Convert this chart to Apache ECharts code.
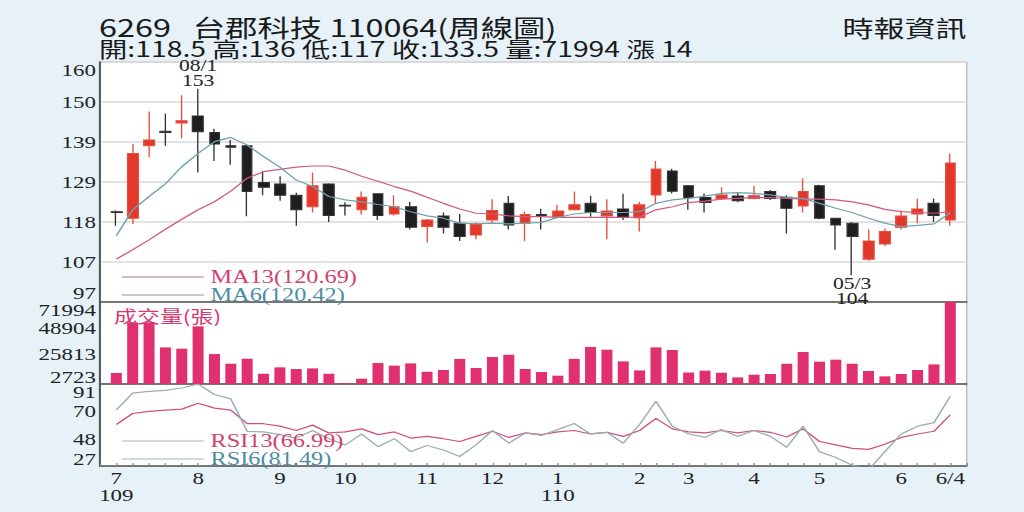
<!DOCTYPE html>
<html>
<head>
    <meta charset="utf-8">
    <script src="https://cdn.jsdelivr.net/npm/echarts@6.0.0/dist/echarts.min.js"></script>
    <style>
        html, body { margin: 0; padding: 0; background: #e6f2f8; overflow: hidden; }
        #main { height: 512px; transform-origin: 0 0; }
    </style>
</head>
<body>
    <div id="main"></div>
</body>
<script type="text/javascript">
    // the reference is stretched sideways, so draw narrow and scale the box
    var S = 1.35;
    function px(v) { return v / S; }

    // weekly candles: [open, close, low, high]
    var candles = [
        [120.7, 120.5, 117, 121], [119, 136, 117.5, 138.5], [138, 139.5, 135, 147], [141.8, 141.5, 138, 146.5],
        [144, 144.6, 140, 151.3], [145.8, 141.7, 131, 153], [141.5, 138.5, 134, 142.5], [138, 137.6, 133, 139.5],
        [138, 126, 119.5, 138.3], [128.4, 127.1, 125, 131.4], [128, 125, 123.6, 130], [125, 121.2, 117, 125.7],
        [122, 127.5, 120.5, 131], [128, 119.7, 118, 128.2], [122.4, 122.2, 119.7, 123.2], [121.2, 124.5, 120, 126],
        [125.4, 119.7, 118.5, 125.5], [120.1, 122, 119.7, 125], [122, 116.6, 116, 123.3], [116.8, 118.5, 112.6, 118.8],
        [119.6, 116.6, 115, 120.5], [117.7, 114.2, 113, 120.1], [114.6, 117.5, 113.5, 117.9], [118.5, 121, 117.7, 124],
        [122.9, 117.2, 116, 124.8], [117.7, 120, 113, 120.7], [120, 119.7, 116, 121.4], [119.4, 120.9, 119.2, 122.5],
        [121.2, 122.5, 121, 126], [122.9, 120.5, 119.4, 124.9], [119.6, 120.9, 113.5, 124], [121.4, 119.2, 118.5, 125.4],
        [119.1, 122.5, 115.5, 123.3], [125.1, 131.9, 122.9, 134], [131.4, 126.1, 125.5, 132], [127.5, 124.4, 121.2, 127.7],
        [124.4, 123.1, 120.5, 125.5], [124.2, 125.1, 123.8, 127.1], [124.8, 123.6, 123.2, 125.8], [124.2, 124.9, 124, 127.5],
        [126, 124.2, 123.8, 126.4], [124.5, 121.6, 115, 125], [122.2, 126, 120.5, 129.5], [127.5, 119, 118.7, 127.8],
        [119, 117.2, 110.7, 119.1], [117.7, 114.2, 104, 118], [108.2, 113, 107.8, 116], [112.2, 115.5, 111.7, 116.3],
        [116.6, 119.6, 116, 121], [120.1, 121.4, 117.7, 124.2], [122.9, 119.7, 118, 124.2], [118.5, 133.5, 117, 136]
    ];

    var ma6 = [
        114.4, 121.2, 124.7, 128, 132.5, 136, 139.1, 140.2, 138.2, 135.2,
        132.4, 129, 127.3, 124.7, 123.8, 123.3, 122.6, 122, 120.7, 119.6,
        119, 117.7, 117.5, 117.7, 117.5, 117.7, 117.9, 119.2, 120.1, 120.5,
        120.5, 120.5, 120.7, 122.9, 123.8, 124.2, 124.8, 125.5, 125.7, 125.5,
        125.1, 124.5, 124.2, 122.9, 121.6, 120.5, 119, 117.7, 116.8, 117.1,
        117.5, 120.42
    ];
    var ma13 = [
        108.3, 110.7, 113.3, 116.1, 118.7, 121.2, 123.3, 126.1, 129.5, 131.2,
        131.8, 132.4, 132.7, 132.7, 131.6, 130, 128.7, 127.3, 126.1, 124.5,
        122.9, 121.4, 120.3, 120.1, 119.6, 119.4, 119.4, 119.2, 119.2, 119.2,
        119.2, 119.2, 119.3, 121.2, 122, 123.1, 123.5, 124, 124.2, 124.4,
        124.4, 124.2, 124, 124, 123.8, 123.3, 122.5, 121.3, 120.7, 120.5,
        120.3, 120.69
    ];

    var volume = [
        9660, 54100, 54100, 32150, 31000, 50600, 26300, 17800, 22200, 9000,
        14600, 13150, 13700, 9000, 800, 4650, 18400, 16100, 18100, 10800,
        12300, 22000, 14050, 23700, 25700, 13150, 10550, 7300, 22000, 32500,
        30100, 19850, 11950, 32150, 29850, 10200, 11700, 9900, 5800, 8150,
        8800, 17800, 28100, 19600, 21350, 17800, 11400, 6700, 8800, 12300,
        17200, 71994
    ];

    var rsi6 = [
        70.8, 83.9, 85.2, 86, 87.9, 91, 82.8, 79.4, 54.1, 53.6,
        51.5, 48.8, 54.7, 48.3, 43.5, 52, 42.1, 48.3, 38.2, 43,
        39.5, 34.4, 43.5, 54.7, 44.8, 52.8, 50.9, 55.4, 60.2, 52,
        53.3, 44.8, 59.4, 77.5, 58.1, 52, 49.3, 55.4, 50.1, 54.7,
        50.1, 41.6, 58.1, 38.2, 33.6, 27.5, 24, 38.2, 52, 58.1,
        60.8, 81.49
    ];
    var rsi13 = [
        59.4, 68, 69.6, 70.6, 71.4, 76, 72.2, 70.6, 60, 60,
        58.1, 54.7, 58.9, 52.8, 53.6, 56, 51.5, 53.6, 48.8, 50.1,
        48.3, 46.1, 50.1, 54.1, 49.3, 52.8, 51.5, 53.6, 54.7, 52,
        53.3, 50.1, 54.7, 64.2, 56, 53.6, 52.8, 54.7, 52.8, 54.7,
        53.3, 49.6, 56, 46.1, 43.5, 40.8, 40, 44, 49.3, 52,
        54.1, 66.99
    ];

    // month marks under the weeks
    var weekLabels = [
        '7\n109', '', '', '', '', '8', '', '', '', '',
        '9', '', '', '', '10', '', '', '', '', '11',
        '', '', '', '12', '', '', '', '1\n110', '', '',
        '', '', '2', '', '', '3', '', '', '', '4',
        '', '', '', '5', '', '', '', '', '6', '',
        '', '6/4'
    ];

    var priceTickLabels = ['97', '107', '118', '129', '139', '150', '160'];
    var volTicks = [2723, 25813, 48904, 71994];
    var rsiTicks = [27, 48, 70, 91];
    var markDates = ['08/1', '05/3'];

    var quoteNames = ['開', '高', '低', '收', '量'];
    var quoteValues = [118.5, 136, 117, 133.5, 71994];
    var change = 14;

    function pad(arr) { return ['-'].concat(arr, ['-']); }
    var cats = [''].concat(weekLabels, ['']);
    var last = candles.length - 1;

    var serif = 'Liberation Serif';
    var cjk = 'Noto Sans CJK TC';

    var quoteText = quoteNames.map(function (n, i) { return n + ':' + quoteValues[i]; }).join(' ') + ' 漲 ' + change;

    function edgeLabel(isLo, isHi, t) {
        if (isLo) return '{lo|' + t + '}';
        if (isHi) return '{hi|' + t + '}';
        return t;
    }
    function rich(top, bottom) {
        return {
            lo: { padding: [0, 0, bottom, 0], fontSize: 17, fontFamily: serif, color: '#222' },
            hi: { padding: [top, 0, 0, 0], fontSize: 17, fontFamily: serif, color: '#222' }
        };
    }

    var main = document.getElementById('main');
    main.style.width = (1024 / S) + 'px';
    main.style.transform = 'scaleX(' + S + ')';
    var myChart = echarts.init(main, null, { renderer: 'svg' });

    var axisLineStyle = { color: '#555', width: 1.5 };
    var gridBase = { left: px(100), right: px(58), show: true, backgroundColor: '#fff', borderColor: '#b5b5b5', borderWidth: 1 };
    var headStyle = { fontFamily: cjk, fontWeight: 'normal', color: '#1a1a1a' };

    myChart.setOption({
        animation: false,
        backgroundColor: '#e6f2f8',
        title: [
            { text: '6269   台郡科技 110064(周線圖)', left: px(99), top: 15, padding: 0,
              textStyle: Object.assign({ fontSize: 24, lineHeight: 22 }, headStyle) },
            { text: quoteText, left: px(99), top: 38.5, padding: 0,
              textStyle: Object.assign({ fontSize: 21, lineHeight: 19 }, headStyle) },
            { text: '時報資訊', right: px(58), top: 16, padding: 0,
              textStyle: Object.assign({ fontSize: 23, lineHeight: 22 }, headStyle) },
            { text: '成交量(張)', left: px(114), top: 307, padding: 0,
              textStyle: { fontFamily: cjk, fontSize: 17, lineHeight: 17, fontWeight: 'normal', color: '#d9386f' } }
        ],
        legend: [
            {
                orient: 'vertical', left: px(115), top: 263, itemGap: 0, icon: 'rect', padding: 5,
                itemWidth: px(82), itemHeight: 1.5, selectedMode: false,
                textStyle: { fontFamily: serif, fontSize: 18, lineHeight: 16 },
                data: [
                    { name: 'MA13(' + ma13[last].toFixed(2) + ')', itemStyle: { color: '#c9a3b3' }, textStyle: { color: '#d23f70' } },
                    { name: 'MA6(' + ma6[last].toFixed(2) + ')', itemStyle: { color: '#a9bec6' }, textStyle: { color: '#4a8ea2' } }
                ]
            },
            {
                orient: 'vertical', left: px(115), top: 427, itemGap: 0, icon: 'rect', padding: 5,
                itemWidth: px(82), itemHeight: 1.5, selectedMode: false,
                textStyle: { fontFamily: serif, fontSize: 18, lineHeight: 16 },
                data: [
                    { name: 'RSI13(' + rsi13[last].toFixed(2) + ')', itemStyle: { color: '#d8c6cc' }, textStyle: { color: '#d23f70' } },
                    { name: 'RSI6(' + rsi6[last].toFixed(2) + ')', itemStyle: { color: '#c3cdd0' }, textStyle: { color: '#4a8ea2' } }
                ]
            }
        ],
        grid: [
            Object.assign({ top: 62, height: 240 }, gridBase),
            Object.assign({ top: 302, height: 82 }, gridBase),
            Object.assign({ top: 384, height: 82 }, gridBase)
        ],
        xAxis: [
            { type: 'category', gridIndex: 0, data: cats, boundaryGap: false,
              axisLine: { lineStyle: axisLineStyle }, axisTick: { show: false }, axisLabel: { show: false } },
            { type: 'category', gridIndex: 1, data: cats, boundaryGap: false,
              axisLine: { lineStyle: axisLineStyle }, axisTick: { show: false }, axisLabel: { show: false } },
            { type: 'category', gridIndex: 2, data: cats, boundaryGap: false,
              axisLine: { lineStyle: axisLineStyle },
              axisTick: { show: true, interval: 0, inside: true, length: 3, lineStyle: { color: '#888' } },
              axisLabel: { interval: 0, margin: 4, fontFamily: serif, fontSize: 17, lineHeight: 17, color: '#222' } }
        ],
        yAxis: [
            {
                type: 'value', gridIndex: 0, min: 97, max: 160, interval: 10.5,
                axisLine: { show: true, lineStyle: axisLineStyle }, axisTick: { show: false },
                splitLine: { lineStyle: { color: '#dadada', width: 1.5 } },
                axisLabel: {
                    margin: 3, fontFamily: serif, fontSize: 17, color: '#222', rich: rich(16, 18),
                    formatter: function (v, i) {
                        return edgeLabel(i === 0, i === priceTickLabels.length - 1, priceTickLabels[i]);
                    }
                }
            },
            {
                type: 'value', gridIndex: 1, min: 0, max: volTicks[volTicks.length - 1],
                axisLine: { show: true, lineStyle: axisLineStyle },
                axisTick: { show: false, customValues: volTicks }, splitLine: { show: false },
                axisLabel: {
                    customValues: volTicks, margin: 3, fontFamily: serif, fontSize: 17, color: '#222', rich: rich(16, 8),
                    formatter: function (v) {
                        return edgeLabel(v === volTicks[0], v === volTicks[volTicks.length - 1], String(v));
                    }
                }
            },
            {
                type: 'value', gridIndex: 2, min: rsiTicks[0], max: rsiTicks[rsiTicks.length - 1],
                axisLine: { show: true, lineStyle: axisLineStyle },
                axisTick: { show: false, customValues: rsiTicks }, splitLine: { show: false },
                axisLabel: {
                    customValues: rsiTicks, margin: 3, fontFamily: serif, fontSize: 17, color: '#222', rich: rich(16, 14),
                    formatter: function (v) {
                        return edgeLabel(v === rsiTicks[0], v === rsiTicks[rsiTicks.length - 1], String(v));
                    }
                }
            }
        ],
        series: [
            {
                name: 'K', type: 'candlestick', xAxisIndex: 0, yAxisIndex: 0,
                data: pad(candles), barWidth: px(11),
                itemStyle: { color: '#e3372c', color0: '#1e1e1e', borderColor: '#e3503c', borderColor0: '#333', borderWidth: 1 },
                markPoint: {
                    symbol: 'circle', symbolSize: 1, itemStyle: { color: 'rgba(0,0,0,0)' },
                    label: {
                        fontFamily: serif, fontSize: 16, lineHeight: 15, color: '#222',
                        formatter: function (p) { return p.name + '\n' + p.value; }
                    },
                    data: [
                        { name: markDates[0], type: 'max', valueDim: 'highest', label: { position: 'top', distance: 0 } },
                        { name: markDates[1], type: 'min', valueDim: 'lowest', label: { position: 'bottom', distance: 0 } }
                    ]
                }
            },
            {
                name: 'MA13(' + ma13[last].toFixed(2) + ')', type: 'line', xAxisIndex: 0, yAxisIndex: 0,
                data: pad(ma13), symbol: 'none', lineStyle: { color: '#d25a82', width: 1.2 }, itemStyle: { color: '#d25a82' }
            },
            {
                name: 'MA6(' + ma6[last].toFixed(2) + ')', type: 'line', xAxisIndex: 0, yAxisIndex: 0,
                data: pad(ma6), symbol: 'none', lineStyle: { color: '#6fa3ae', width: 1.2 }, itemStyle: { color: '#6fa3ae' }
            },
            {
                name: 'VOL', type: 'bar', xAxisIndex: 1, yAxisIndex: 1,
                data: pad(volume), barWidth: px(11), itemStyle: { color: '#e0306e' }
            },
            {
                name: 'RSI13(' + rsi13[last].toFixed(2) + ')', type: 'line', xAxisIndex: 2, yAxisIndex: 2,
                data: pad(rsi13), symbol: 'none', lineStyle: { color: '#d0507a', width: 1.2 }, itemStyle: { color: '#d0507a' }
            },
            {
                name: 'RSI6(' + rsi6[last].toFixed(2) + ')', type: 'line', xAxisIndex: 2, yAxisIndex: 2,
                data: pad(rsi6), symbol: 'none', lineStyle: { color: '#9aaeb0', width: 1.2 }, itemStyle: { color: '#9aaeb0' }
            }
        ]
    });
</script>
</html>
